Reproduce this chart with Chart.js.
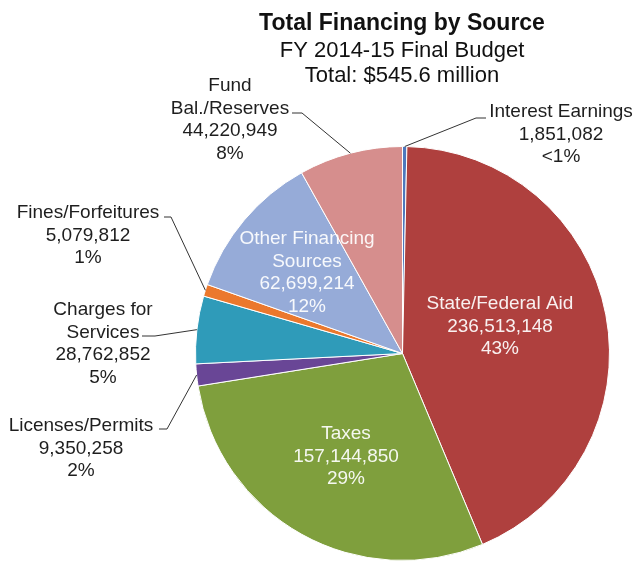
<!DOCTYPE html>
<html>
<head>
<meta charset="utf-8">
<title>Total Financing by Source</title>
<script src="https://cdn.jsdelivr.net/npm/chart.js@4"></script>
<style>
    html, body { margin: 0; padding: 0; background: #fff; }
    #wrap { width: 636px; height: 563px; }
</style>
</head>
<body>
<div id="wrap"><canvas id="financing-chart" width="636" height="563"></canvas></div>
<script>
// Financing sources, clockwise from the top of the pie
const categories = ['Interest Earnings', 'State/Federal Aid', 'Taxes', 'Licenses/Permits',
    'Charges for Services', 'Fines/Forfeitures', 'Other Financing Sources', 'Fund Bal./Reserves'];
const nameLines = [['Interest Earnings'], ['State/Federal Aid'], ['Taxes'], ['Licenses/Permits'],
    ['Charges for', 'Services'], ['Fines/Forfeitures'], ['Other Financing', 'Sources'], ['Fund', 'Bal./Reserves']];
const amounts = [1851082, 236513148, 157144850, 9350258, 28762852, 5079812, 62699214, 44220949];
const percentLabels = ['<1%', '43%', '29%', '2%', '5%', '1%', '12%', '8%'];

const titleLines = ['Total Financing by Source', 'FY 2014-15 Final Budget', 'Total: $545.6 million'];

const sliceColors = ['#4f78bd', '#af403e', '#7f9f3d', '#694696', '#2f9bb9', '#eb782d', '#96abd8', '#d68e8d'];

// where each label block sits; outside labels get a leader line to the slice
const labelSpots = [
    { x: 561, y: 112, inside: false, leader: [[486, 118], [476, 118]] },
    { x: 500, y: 304, inside: true },
    { x: 346, y: 434, inside: true },
    { x: 81, y: 426, inside: false, leader: [[159, 429], [167, 429]] },
    { x: 103, y: 310, inside: false, leader: [[142, 336], [155, 336]] },
    { x: 88, y: 213, inside: false, leader: [[164, 217], [171, 217]] },
    { x: 307, y: 239, inside: true },
    { x: 230, y: 86, inside: false, leader: [[292, 113], [302, 113]] }
];

const FONT = '"Liberation Sans", Arial, sans-serif';

const labelPlugin = {
    id: 'sliceLabels',
    afterDraw(chart) {
        const ctx = chart.ctx;
        ctx.save();
        ctx.textAlign = 'center';
        ctx.textBaseline = 'middle';

        // heading
        ctx.fillStyle = '#111';
        ctx.font = 'bold 23px ' + FONT;
        ctx.fillText(titleLines[0], 402, 24);
        ctx.font = '22px ' + FONT;
        ctx.fillText(titleLines[1], 402, 51);
        ctx.fillText(titleLines[2], 402, 76);

        const arcs = chart.getDatasetMeta(0).data;
        ctx.font = '19px ' + FONT;
        arcs.forEach((arc, i) => {
            const spot = labelSpots[i];
            const lines = nameLines[i].concat([amounts[i].toLocaleString('en-US'), percentLabels[i]]);
            ctx.fillStyle = spot.inside ? 'rgba(255,255,255,0.92)' : '#1e1e1e';
            lines.forEach((t, k) => ctx.fillText(t, spot.x, spot.y + k * 22.5));

            if (spot.leader) {
                const p = arc.getProps(['x', 'y', 'startAngle', 'endAngle', 'outerRadius'], true);
                const mid = (p.startAngle + p.endAngle) / 2;
                ctx.strokeStyle = '#333';
                ctx.lineWidth = 1;
                ctx.beginPath();
                ctx.moveTo(spot.leader[0][0], spot.leader[0][1]);
                ctx.lineTo(spot.leader[1][0], spot.leader[1][1]);
                ctx.lineTo(p.x + Math.cos(mid) * p.outerRadius, p.y + Math.sin(mid) * p.outerRadius);
                ctx.stroke();
            }
        });
        ctx.restore();
    }
};

new Chart(document.getElementById('financing-chart'), {
    type: 'pie',
    data: {
        labels: categories,
        datasets: [{
            data: amounts,
            backgroundColor: sliceColors,
            borderColor: '#ffffff',
            borderWidth: 1
        }]
    },
    options: {
        responsive: false,
        animation: false,
        layout: { padding: { top: 146, bottom: 2, left: 195, right: 26 } },
        plugins: {
            legend: { display: false },
            tooltip: { enabled: false }
        }
    },
    plugins: [labelPlugin]
});
</script>
</body>
</html>
